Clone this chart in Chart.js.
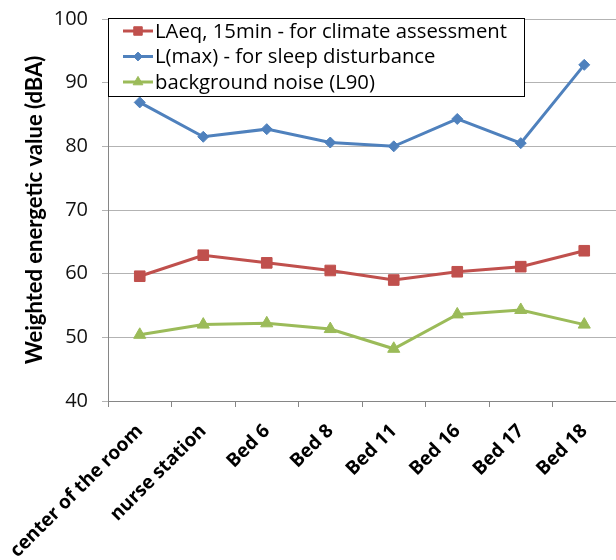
<!DOCTYPE html>
<html>
<head>
<meta charset="utf-8">
<script src="https://cdn.jsdelivr.net/npm/chart.js@4"></script>
<style>
  body { margin: 0; background: #fff; }
  #wrap { width: 616px; height: 560px; }
</style>
</head>
<body>
<div id="wrap"><canvas id="chart" width="616" height="560"></canvas></div>
<script>
// Measurement locations
const locations = ['center of the room', 'nurse station', 'Bed 6', 'Bed 8', 'Bed 11', 'Bed 16', 'Bed 17', 'Bed 18'];

// Series values (dBA)
const laeqValues = [59.6, 62.9, 61.7, 60.5, 59.0, 60.3, 61.1, 63.6];
const lmaxValues = [86.9, 81.5, 82.7, 80.6, 80.0, 84.3, 80.5, 92.8];
const l90Values = [50.4, 52.0, 52.2, 51.3, 48.2, 53.6, 54.3, 52.0];

const seriesLabels = ['LAeq, 15min - for climate assessment', 'L(max) - for sleep disturbance', 'background noise (L90)'];
const yTitle = 'Weighted energetic value (dBA)';

const FONT = '"Open Sans", sans-serif';
const TITLE_FONT = 'Lato, sans-serif';

// Legend drawn inside the plot area, top-left, with a box round it
const insideLegend = {
  id: 'insideLegend',
  afterDraw(chart) {
    const ctx = chart.ctx;
    const area = chart.chartArea;
    const x = area.left;
    const y = area.top - 1;
    const w = 416;
    const h = 78;

    ctx.save();
    ctx.fillStyle = '#fff';
    ctx.fillRect(x, y, w, h);
    ctx.strokeStyle = '#000';
    ctx.lineWidth = 1;
    ctx.strokeRect(x + 0.5, y + 0.5, w, h);

    ctx.font = '20.3px ' + FONT;
    ctx.textBaseline = 'middle';
    chart.data.datasets.forEach((ds, i) => {
      const rowY = y + 13 + i * 25.5;
      ctx.strokeStyle = ds.borderColor;
      ctx.lineWidth = 3;
      ctx.beginPath();
      ctx.moveTo(x + 15, rowY);
      ctx.lineTo(x + 45, rowY);
      ctx.stroke();
      ctx.fillStyle = ds.backgroundColor;
      ctx.lineWidth = 1;
      Chart.helpers.drawPoint(ctx, {
        pointStyle: ds.pointStyle,
        radius: ds.pointRadius * 0.8,
        borderWidth: 1
      }, x + 30, rowY);
      ctx.fillStyle = '#000';
      ctx.fillText(ds.label, x + 47, rowY + 1);
    });
    ctx.restore();
  }
};

const ctx = document.getElementById('chart');

const chart = new Chart(ctx, {
  type: 'line',
  data: {
    labels: locations,
    datasets: [
      {
        label: seriesLabels[0],
        data: laeqValues,
        borderColor: '#C0504D',
        backgroundColor: '#C0504D',
        borderWidth: 3,
        pointStyle: 'rect',
        pointRadius: 7.5,
        pointBorderWidth: 1,
        tension: 0
      },
      {
        label: seriesLabels[1],
        data: lmaxValues,
        borderColor: '#4F81BD',
        backgroundColor: '#4F81BD',
        borderWidth: 3,
        pointStyle: 'rectRot',
        pointRadius: 5.5,
        pointBorderWidth: 1,
        tension: 0
      },
      {
        label: seriesLabels[2],
        data: l90Values,
        borderColor: '#9BBB59',
        backgroundColor: '#9BBB59',
        borderWidth: 3,
        pointStyle: 'triangle',
        pointRadius: 7,
        pointBorderWidth: 1,
        tension: 0
      }
    ]
  },
  options: {
    responsive: false,
    animation: false,
    layout: {
      autoPadding: false,
      padding: { top: 19, right: 0, left: 0, bottom: 0 }
    },
    plugins: {
      legend: { display: false },
      tooltip: { enabled: false }
    },
    scales: {
      x: {
        offset: true,
        afterFit(scale) {
          scale.height = 159;
          scale.paddingLeft = 0;
          scale.paddingRight = 0;
        },
        grid: {
          offset: true,
          drawOnChartArea: false,
          drawTicks: true,
          tickLength: 6,
          color: '#868686'
        },
        border: { color: '#868686', width: 1 },
        ticks: {
          maxRotation: 45,
          minRotation: 45,
          color: '#000',
          padding: 13,
          font: { family: FONT, size: 19, weight: 'bold' }
        }
      },
      y: {
        min: 40,
        max: 100,
        afterFit(scale) {
          scale.width = 108;
          scale.paddingTop = 0;
          scale.paddingBottom = 0;
        },
        ticks: {
          stepSize: 10,
          color: '#111',
          padding: 14,
          font: { family: FONT, size: 20 }
        },
        grid: {
          color: '#b3b3b3',
          lineWidth: 1,
          tickLength: 6
        },
        border: { color: '#868686', width: 1 },
        title: {
          display: true,
          text: yTitle,
          color: '#000',
          font: { family: TITLE_FONT, size: 22, weight: 'bold' },
          padding: { top: 22, bottom: 0 }
        }
      }
    }
  },
  plugins: [insideLegend]
});
</script>
</body>
</html>
